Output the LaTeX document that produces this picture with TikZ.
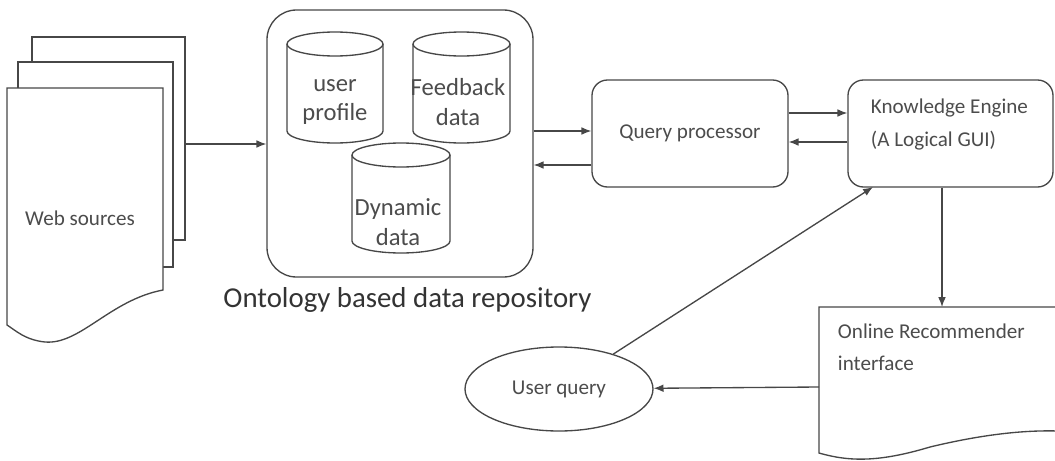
\documentclass[tikz,border=0pt]{standalone}
\usepackage{fontspec}
\setmainfont{Carlito}
\usetikzlibrary{arrows.meta,shapes.geometric}
\newcommand{\unitpx}{0.025cm}
\def\dbdrum(#1,#2,#3,#4){\draw[line,fill=white] (#1-#2,#3-12) -- (#1-#2,#4+12) arc (180:360:#2 and 12) -- (#1+#2,#3-12) arc (0:180:#2 and 12) -- cycle; \draw[line] (#1-#2,#3-12) arc (180:360:#2 and 12);}

\begin{document}
\begin{tikzpicture}[x=0.025cm,y=0.025cm,
    line/.style={draw=black!72,line width=0.95pt},
    arr/.style={line,-{Latex[length=7pt,width=5.5pt]}},
    lbl/.style={text=black!70,font=\fontsize{15}{23}\selectfont},
    dbtext/.style={text=black!70,align=center,font=\fontsize{17.5}{21}\selectfont}]
				\useasboundingbox (0,0) rectangle (1055,-461);
				\clip (0,0) rectangle (1055,-461);
				
				\draw[line,fill=white] (32,-37) rectangle (185,-240);
				\draw[line,fill=white] (18,-62) rectangle (173,-267);
				\draw[line,fill=white] (7,-88) -- (163,-88) -- (163,-290) .. controls (110,-300) and (80,-345) .. (45,-342) .. controls (25,-340) and (15,-330) .. (7,-325) -- cycle;
				\node[lbl] (web) at (80,-218) {Web sources};
				\coordinate (webout) at (185,-144);
				
				\node[line,rounded corners=21pt,minimum width=266*\unitpx,minimum height=267*\unitpx] (repo) at (400,-143.5) {};
				\dbdrum(335,48,-32,-143)
				\dbdrum(461.5,48.5,-32,-143)
				\dbdrum(401,49,-143,-253)
				\node[dbtext] (profile) at (335,-102) {user\\profile};
				\node[dbtext] (feedback) at (458,-102) {Feedback\\data};
				\node[dbtext] (dynamic) at (398,-222) {Dynamic\\data};
				\node[text=black!80,font=\fontsize{20.5}{24}\selectfont] (repolabel) at (407.5,-300) {Ontology based data repository};
				
				\node[line,lbl,rounded corners=11pt,minimum width=196*\unitpx,minimum height=107*\unitpx] (qp) at (690,-133.5) {Query processor};
				\node[line,rounded corners=11pt,minimum width=205*\unitpx,minimum height=107*\unitpx] (ke) at (950.5,-133.5) {};
				\node[lbl,anchor=west,align=left] (ketext) at (866,-124.5) {Knowledge Engine\\(A Logical GUI)};
				\coordinate (keport) at (873,-187);
				
				\node[line,lbl,ellipse,minimum width=188*\unitpx,minimum height=84*\unitpx] (uq) at (559,-389) {User query};
				
				\draw[line,fill=white] (819,-307) -- (1075,-307) -- (1075,-432) .. controls (1030,-428) and (980,-435) .. (930,-447) .. controls (880,-462) and (850,-462) .. (819,-453) -- cycle;
				\node[lbl,anchor=west,align=left] (rectext) at (833,-347.5) {Online Recommender\\interface};
				\coordinate (recin) at (942,-307);
				\coordinate (recout) at (819,-387);
				
				\draw[arr] (webout) -- (repo.west |- webout);
				\draw[arr] ([yshift=12.5*\unitpx]repo.east) -- ([yshift=12.5*\unitpx]repo.east -| qp.west);
				\draw[arr] ([yshift=-31.5*\unitpx]qp.west) -- ([yshift=-31.5*\unitpx]qp.west -| repo.east);
				\draw[arr] ([yshift=20.5*\unitpx]qp.east) -- ([yshift=20.5*\unitpx]qp.east -| ke.west);
				\draw[arr] ([yshift=-8.5*\unitpx]ke.west) -- ([yshift=-8.5*\unitpx]ke.west -| qp.east);
				\draw[arr] (ke.south -| recin) -- (recin);
				\draw[arr] (recout) -- (uq);
				\draw[arr] (uq) -- (keport);
\end{tikzpicture}
\end{document}
